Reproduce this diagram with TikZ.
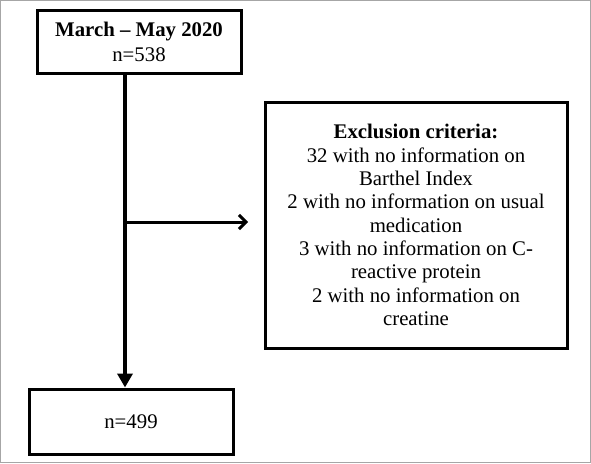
\documentclass[tikz,border=0pt]{standalone}
\usepackage{fontspec}
\setmainfont{Liberation Serif}
\usetikzlibrary{arrows.meta}

\begin{document}
\begin{tikzpicture}[x=1pt,y=-1pt,
  box/.style={draw,line width=3pt,align=center,inner sep=0pt,font=\fontsize{20.8}{23.3}\selectfont}]
\draw[gray!70,line width=1pt] (0.5,0.5) rectangle (590.5,462.5);
\node[box,minimum width=204pt,minimum height=63pt] (start) at (139,41.5) {\textbf{March – May 2020}\\[1.5pt]n=538};
\node[box,minimum width=302pt,minimum height=246pt] (excl) at (416,225) {\textbf{Exclusion criteria:}\\32 with no information on\\Barthel Index\\2 with no information on usual\\medication\\3 with no information on C-\\reactive protein\\2 with no information on\\creatine};
\node[box,minimum width=204pt,minimum height=65pt] (final) at (131,421.5) {n=499};
\coordinate (split) at (125,222);
\coordinate (exclin) at (248,222);
\draw[line width=4pt,-{Triangle[length=14pt,width=15pt]}] (start.south -| split) -- (final.north -| split);
\draw[line width=3pt,-{Straight Barb[length=7pt,width=14pt]}] (split) -- (exclin);
\end{tikzpicture}
\end{document}
